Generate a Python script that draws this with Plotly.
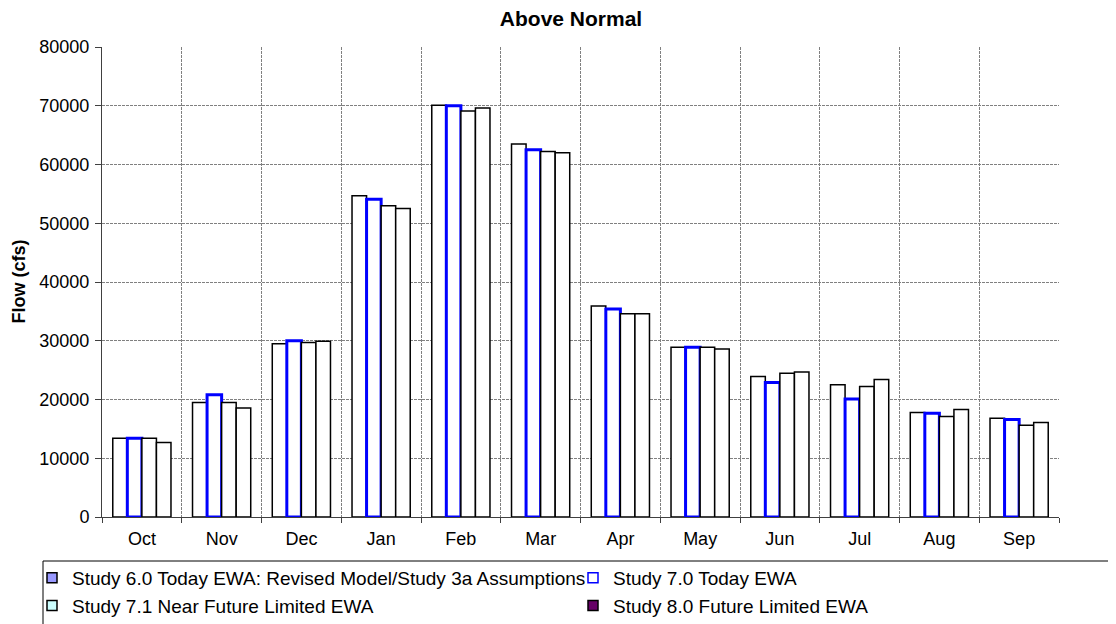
import plotly.graph_objects as go

months = ["Oct", "Nov", "Dec", "Jan", "Feb", "Mar", "Apr", "May", "Jun", "Jul", "Aug", "Sep"]
study_60 = [13400, 19500, 29500, 54700, 70100, 63500, 35900, 28900, 23900, 22500, 17800, 16800]
study_70 = [13400, 20800, 30000, 54100, 70000, 62500, 35400, 28900, 22900, 20100, 17650, 16600]
study_71 = [13400, 19500, 29700, 53000, 69100, 62200, 34600, 28900, 24450, 22200, 17100, 15600]
study_80 = [12700, 18550, 29900, 52500, 69600, 62000, 34600, 28600, 24700, 23400, 18300, 16100]

names = [
    "Study 6.0 Today EWA: Revised Model/Study 3a Assumptions",
    "Study 7.0 Today EWA",
    "Study 7.1 Near Future Limited EWA",
    "Study 8.0 Future Limited EWA",
]
series = [study_60, study_70, study_71, study_80]
outline = ["#000000", "#0000FF", "#000000", "#000000"]
outline_w = [1.5, 3, 1.5, 1.5]
legend_fill = ["#9999FF", "#FFFFFF", "#CCFFFF", "#660066"]
legend_line = ["#000000", "#0000FF", "#000000", "#000000"]
legend_ref = ["legend", "legend2", "legend", "legend2"]

FONT = "Liberation Sans, Arial, sans-serif"
W, H = 1116, 624
OFF = 8  # page body margin offset
# plot area in screen pixels: x 102..1059, y 47..517
L = 102 - OFF
T = 47 - OFF
R = W - (1059 - OFF)
B = H - (517 - OFF)

fig = go.Figure()
for vals, col, w in zip(series, outline, outline_w):
    fig.add_trace(go.Bar(
        x=months, y=vals, showlegend=False,
        marker=dict(color="#FFFFFF", line=dict(color=col, width=w)),
    ))
for nm, fc, lc, lg in zip(names, legend_fill, legend_line, legend_ref):
    fig.add_trace(go.Scatter(
        x=[None], y=[None], mode="markers", name=nm, legend=lg,
        marker=dict(symbol="square", size=10, color=fc, line=dict(color=lc, width=1.5)),
    ))

grid_style = dict(showgrid=True, gridcolor="#808080", gridwidth=1, griddash="3px,1px")

pw = W - L - R
ph = H - T - B
def px_x(sx):
    return (sx - OFF - L) / pw
def px_y(sy):
    return (H - B - (sy - OFF)) / ph

leg_common = dict(
    orientation="v", xref="container", yref="container", xanchor="left", yanchor="top",
    bgcolor="rgba(0,0,0,0)", borderwidth=0, itemwidth=30,
    font=dict(size=19, family=FONT), traceorder="normal", tracegroupgap=0,
)

fig.update_layout(
    width=W, height=H,
    paper_bgcolor="white", plot_bgcolor="white",
    margin=dict(l=L, r=R, t=T, b=B, autoexpand=False),
    barmode="group", bargap=0.27, bargroupgap=0,
    font=dict(family=FONT, size=18, color="black"),
    title=dict(text="<b>Above Normal</b>", x=(571 - OFF) / W, xanchor="center",
               y=1 - 3 / H, yanchor="top", font=dict(size=21, family=FONT)),
    xaxis=dict(
        type="category", tickson="boundaries", ticks="outside", ticklen=5, tickcolor="#404040",
        showline=True, linecolor="#404040", linewidth=1, automargin=False,
        ticklabelstandoff=5,
        **grid_style,
    ),
    yaxis=dict(
        range=[0, 80000], dtick=10000, tickformat="d", ticks="outside", ticklen=6,
        tickcolor="#404040", showline=True, linecolor="#404040", linewidth=1,
        zeroline=False, automargin=False, ticklabelstandoff=2,
        **grid_style,
    ),
    legend=dict(x=24 / W, y=1 - (578 - OFF - 19) / H, **leg_common),
    legend2=dict(x=565 / W, y=1 - (578 - OFF - 19) / H, **leg_common),
    annotations=[dict(
        text="<b>Flow (cfs)</b>", textangle=-90, showarrow=False,
        xref="paper", yref="paper", x=px_x(18.5), y=px_y(282),
        xanchor="center", yanchor="middle", font=dict(size=18, family=FONT),
    )],
    shapes=[dict(
        type="rect", xref="paper", yref="paper", layer="above",
        x0=px_x(43), x1=px_x(1130), y0=px_y(561), y1=px_y(650),
        line=dict(color="#000000", width=1), fillcolor="rgba(0,0,0,0)",
    )],
)

fig.write_html("out.html")
